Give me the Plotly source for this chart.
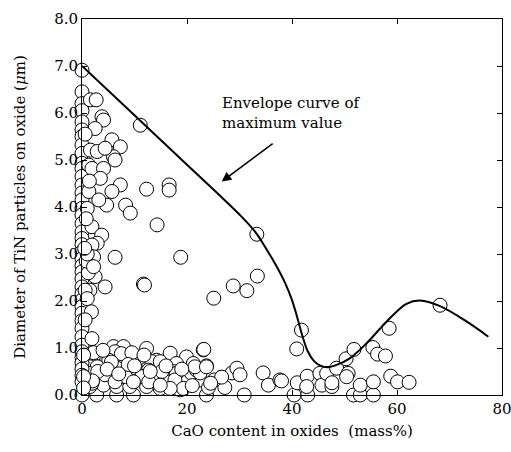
import plotly.graph_objects as go

# Envelope curve of maximum TiN diameter vs CaO content
env_cao = [0.0, 10.0, 20.0, 26.0, 30.0, 33.0, 35.2, 37.0, 38.7, 40.0, 41.0,
           42.0, 43.0, 44.2, 45.5, 46.8, 48.5, 51.0, 54.2, 58.0, 61.8, 64.4,
           68.2, 73.3, 77.4]
env_dia = [7.0, 5.95, 4.9, 4.27, 3.84, 3.47, 3.09, 2.75, 2.38, 2.02, 1.65,
           1.25, 0.93, 0.72, 0.62, 0.59, 0.64, 0.78, 1.1, 1.56, 1.94, 2.01,
           1.89, 1.56, 1.24]

# Oxides with almost no CaO (column at the y axis)
col_cao = [0, 0, 0, 0, 0, 0, 0, 0, 0, 0, 0, 0, 0, 0, 0, 0, 0, 0, 0, 0,
           0, 0, 0, 0, 0, 0, 0, 0, 0, 0, 0, 0, 0, 0, 0, 0, 0, 0, 0, 0,
           0, 0, 0.3, 0.3, 0.3]
col_dia = [6.91, 6.45, 6.2, 6.05, 5.81, 5.64, 5.5, 5.32, 5.14, 4.93, 4.82,
           4.65, 4.47, 4.3, 4.15, 3.97, 3.83, 3.65, 3.47, 3.33, 3.2, 3.05,
           2.9, 2.75, 2.62, 2.47, 2.3, 2.15, 2.02, 1.88, 1.74, 1.58, 1.42,
           1.24, 1.06, 0.92, 0.8, 0.68, 0.55, 0.42, 0.28, 0.0, 0.85, 0.39,
           0.15]

# Low-CaO oxides with large TiN particles
up_cao = [1.6, 2.7, 3.8, 4.1, 2.5, 5.7, 7.3, 6.0, 6.3, 1.6, 2.9, 4.4, 1.3,
          1.9, 4.1, 3.5, 7.3, 5.7, 1.3, 8.3, 9.2, 4.7, 3.2, 1.0, 1.9, 3.75,
          2.9, 1.9, 6.3, 2.2, 4.4, 2.5, 1.5, 0.6, 11.7, 1.0, 1.8, 0.6, 1.9,
          1.2, 0.8, 2.2, 1.0, 0.5, 0.8, 1.4, 0.6]
up_dia = [6.28, 6.28, 5.92, 5.85, 5.67, 5.43, 5.28, 5.07, 5.0, 5.21, 5.18,
          5.25, 4.89, 4.82, 4.82, 4.61, 4.47, 4.33, 4.33, 4.04, 3.87, 4.04,
          4.15, 3.97, 3.58, 3.4, 3.23, 3.19, 2.93, 2.94, 2.3, 2.52, 2.23,
          2.23, 2.36, 2.05, 1.77, 1.6, 1.2, 2.6, 2.85, 2.73, 3.0, 3.12,
          3.75, 4.55, 5.55]

# Scattered points in the middle of the plot
mid_cao = [11.1, 12.3, 16.6, 16.6, 14.3, 18.8, 11.9, 25.1, 28.8, 31.4,
           33.3, 33.4, 41.8, 40.9]
mid_dia = [5.74, 4.38, 4.47, 4.36, 3.62, 2.93, 2.34, 2.06, 2.32, 2.22,
           3.42, 2.53, 1.38, 0.98]

# Dense band of small particles, 0-38 mass% CaO
low_cao = [6.0, 7.9, 12.3, 16.8, 19.9, 23.1, 3.4, 0.3, 4.7, 8.5, 11.0,
           14.2, 18.0, 21.2, 1.5, 6.0, 9.1, 12.3, 14.9, 17.4, 20.6, 2.8,
           5.3, 7.2, 10.4, 13.6, 16.1, 19.3, 22.5, 1.5, 4.1, 6.6, 9.1,
           12.3, 14.9, 18.7, 6.3, 5.1, 8.3, 10.8, 13.3, 2.9, 6.7, 10.2,
           12.7, 1.3, 4.4, 8.3, 11.4, 14.3, 1.9, 6.3, 9.8, 12.7, 14.9, 15.2,
           18.0, 20.8, 21.8, 23.7, 17.7, 19.3, 16.8, 14.9, 26.5, 28.6, 29.5,
           27.2, 25.2, 24.1, 34.5, 35.5, 37.7, 22.5, 21.5, 23.2, 23.7, 26.6,
           30.1, 38.0, 2.2, 4.0, 7.5, 9.5, 11.8, 3.0, 5.6, 8.8, 2.0, 4.8,
           7.0, 10.0, 13.0, 16.0, 19.0, 21.0, 24.5]
low_dia = [1.03, 1.03, 0.99, 0.89, 0.81, 0.96, 0.89, 0.85, 0.74, 0.81, 0.81,
           0.74, 0.67, 0.67, 0.6, 0.6, 0.53, 0.6, 0.46, 0.5, 0.46, 0.39,
           0.43, 0.32, 0.35, 0.39, 0.28, 0.28, 0.32, 0.18, 0.21, 0.18, 0.18,
           0.18, 0.14, 0.11, 0.92, 0.74, 0.74, 0.78, 0.71, 0.6, 0.57, 0.57,
           0.53, 0.46, 0.43, 0.39, 0.39, 0.39, 0.25, 0.28, 0.28, 0.28, 0.71,
           0.5, 0.46, 0.47, 0.53, 0.62, 0.32, 0.14, 0.14, 0.21, 0.37, 0.47,
           0.57, 0.16, 0.32, 0.16, 0.47, 0.21, 0.32, 0.47, 0.6, 0.97, 0.6,
           0.38, 0.43, 0.3, 0.9, 0.95, 0.88, 0.9, 0.85, 0.5, 0.7, 0.65, 0.3,
           0.55, 0.45, 0.62, 0.5, 0.62, 0.55, 0.2, 0.25]

# Particles reported as zero diameter
zero_cao = [2.8, 6.6, 9.8, 23.7, 30.9, 40.4, 43.0, 51.7, 53.0, 55.5]
zero_dia = [0.0, 0.0, 0.0, 0.0, 0.0, 0.0, 0.0, 0.0, 0.0, 0.0]

# Higher-CaO oxides (beyond 40 mass%)
high_cao = [41.0, 42.9, 42.8, 45.3, 45.7, 46.6, 47.6, 47.6, 48.5, 50.3,
            50.7, 50.4, 51.8, 53.0, 55.5, 55.4, 56.3, 57.8, 58.5, 58.8,
            60.1, 62.3, 68.2]
high_dia = [0.26, 0.4, 0.18, 0.46, 0.21, 0.46, 0.18, 0.26, 0.57, 0.77,
            0.46, 0.39, 0.97, 0.21, 0.28, 1.01, 0.87, 0.83, 1.42, 0.4,
            0.28, 0.27, 1.91]

serif = "DejaVu Serif"
text_size = 15
marker_style = dict(size=14, color="white", line=dict(color="black", width=1))

fig = go.Figure()
groups = [(zero_cao, zero_dia), (low_cao, low_dia), (col_cao, col_dia),
          (up_cao, up_dia), (mid_cao, mid_dia), (high_cao, high_dia)]
for gx, gy in groups:
    fig.add_trace(go.Scatter(x=gx, y=gy, mode="markers", marker=marker_style,
                             showlegend=False, hoverinfo="skip", cliponaxis=False))

fig.add_trace(go.Scatter(x=env_cao, y=env_dia, mode="lines",
                         line=dict(color="black", width=2, shape="spline", smoothing=1.0),
                         showlegend=False, hoverinfo="skip"))

fig.add_annotation(x=26.3, y=5.99, xref="x", yref="y", showarrow=False,
                   text="Envelope curve of<br>maximum value", align="left",
                   xanchor="left", yanchor="middle",
                   font=dict(family=serif, size=text_size, color="black"))
fig.add_annotation(x=26.6, y=4.54, ax=36.6, ay=5.37, xref="x", yref="y",
                   axref="x", ayref="y", text="", showarrow=True,
                   arrowhead=2, arrowsize=1.3, arrowwidth=1.5, arrowcolor="black")

axis_common = dict(showline=True, linecolor="black", linewidth=1, mirror="ticks",
                   ticks="inside", ticklen=5, tickcolor="black", showgrid=False,
                   zeroline=False, ticklabeloverflow="allow", automargin=False,
                   tickfont=dict(family=serif, size=text_size, color="black"))

fig.update_xaxes(range=[0, 80], tickvals=[0, 20, 40, 60, 80],
                 title=dict(text="CaO content in oxides  (mass%)", standoff=8,
                            font=dict(family=serif, size=text_size, color="black")),
                 **axis_common)
fig.update_yaxes(range=[0, 8], tickvals=[0, 1, 2, 3, 4, 5, 6, 7, 8],
                 ticktext=["0.0", "1.0", "2.0", "3.0", "4.0", "5.0", "6.0", "7.0", "8.0"],
                 title=dict(text="Diameter of TiN particles on oxide (<i>μ</i>m)", standoff=24,
                            font=dict(family=serif, size=text_size, color="black")),
                 **axis_common)

fig.update_layout(width=511, height=452, margin=dict(l=82, r=9, t=19, b=57),
                  paper_bgcolor="white", plot_bgcolor="white",
                  font=dict(family=serif, color="black"))

fig.write_html("out.html")
